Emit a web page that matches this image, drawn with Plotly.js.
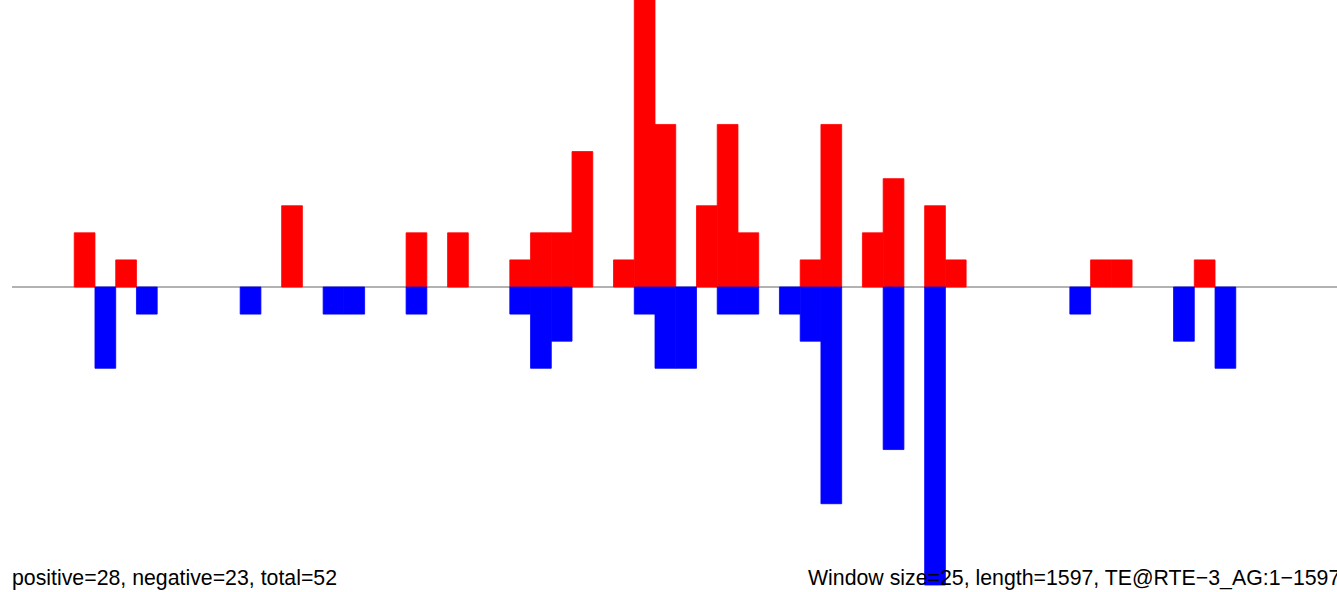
<!DOCTYPE html>
<html>
<head>
<meta charset="utf-8">
<script src="https://cdn.plot.ly/plotly-3.0.1.min.js"></script>
<style>html,body{margin:0;padding:0;background:#fff;overflow:hidden}#chart{width:1337px;height:592px}</style>
</head>
<body>
<div id="chart"></div>
<script>
// Window settings
const windowSize = 25;
const seqLength = 1597;
// Per-window values (64 windows)
const positiveValues = [0,0,0,2,0,1,0,0,0,0, 0,0,0,3,0,0,0,0,0,2, 0,2,0,0,1,2,2,5,0,1, 11,6,0,3,6,2,0,0,1,6, 0,2,4,0,3,1,0,0,0,0, 0,0,1,1,0,0,0,1,0,0, 0,0,0,0];
const negativeValues = [0,0,0,0,3,0,1,0,0,0, 0,1,0,0,0,1,1,0,0,1, 0,0,0,0,1,3,2,0,0,0, 1,3,3,0,1,1,0,1,2,8, 0,0,6,0,11,0,0,0,0,0, 0,1,0,0,0,0,2,0,3,0, 0,0,0,0];
const leftLabel = "positive=28, negative=23, total=52";
const rightLabel = "Window size=25, length=1597, TE@RTE\u22123_AG:1\u22121597";

const centers = positiveValues.map((_, i) => i * windowSize + windowSize / 2);
const posPlot = positiveValues.map(v => v > 0 ? v : null);
const negPlot = negativeValues.map(v => v > 0 ? -v : null);

const traces = [
  {type: 'bar', x: centers, y: posPlot, width: windowSize, marker: {color: '#ff0000', line: {width: 0.8, color: '#ff0000'}}, hoverinfo: 'none'},
  {type: 'bar', x: centers, y: negPlot, width: windowSize, marker: {color: '#0000ff', line: {width: 0.8, color: '#0000ff'}}, hoverinfo: 'none'}
];

const unit = 298 / 11;
const layout = {
  width: 1337, height: 592,
  margin: {l: 12, r: 0, t: 0, b: 0, pad: 0},
  paper_bgcolor: '#ffffff', plot_bgcolor: '#ffffff',
  showlegend: false,
  barmode: 'overlay',
  xaxis: {range: [0, seqLength], visible: false, fixedrange: true},
  yaxis: {range: [-(592 - 287) / unit, 287 / unit], visible: false, fixedrange: true},
  shapes: [{type: 'line', xref: 'paper', yref: 'y', x0: 0, x1: 1, y0: 0, y1: 0, layer: 'below', line: {color: '#999999', width: 1.3}}],
  annotations: [
    {xref: 'paper', yref: 'paper', x: 0, y: 0, xanchor: 'left', yanchor: 'bottom', xshift: -2, yshift: 0, showarrow: false, text: leftLabel, font: {family: 'Liberation Sans, Arial, sans-serif', size: 21.3, color: '#000'}},
    {xref: 'paper', yref: 'paper', x: (808 - 12) / 1325, y: 0, xanchor: 'left', yanchor: 'bottom', xshift: -2, yshift: 0, showarrow: false, text: rightLabel, font: {family: 'Liberation Sans, Arial, sans-serif', size: 21.3, color: '#000'}}
  ]
};
Plotly.newPlot('chart', traces, layout, {displayModeBar: false, staticPlot: true});
</script>
</body>
</html>
